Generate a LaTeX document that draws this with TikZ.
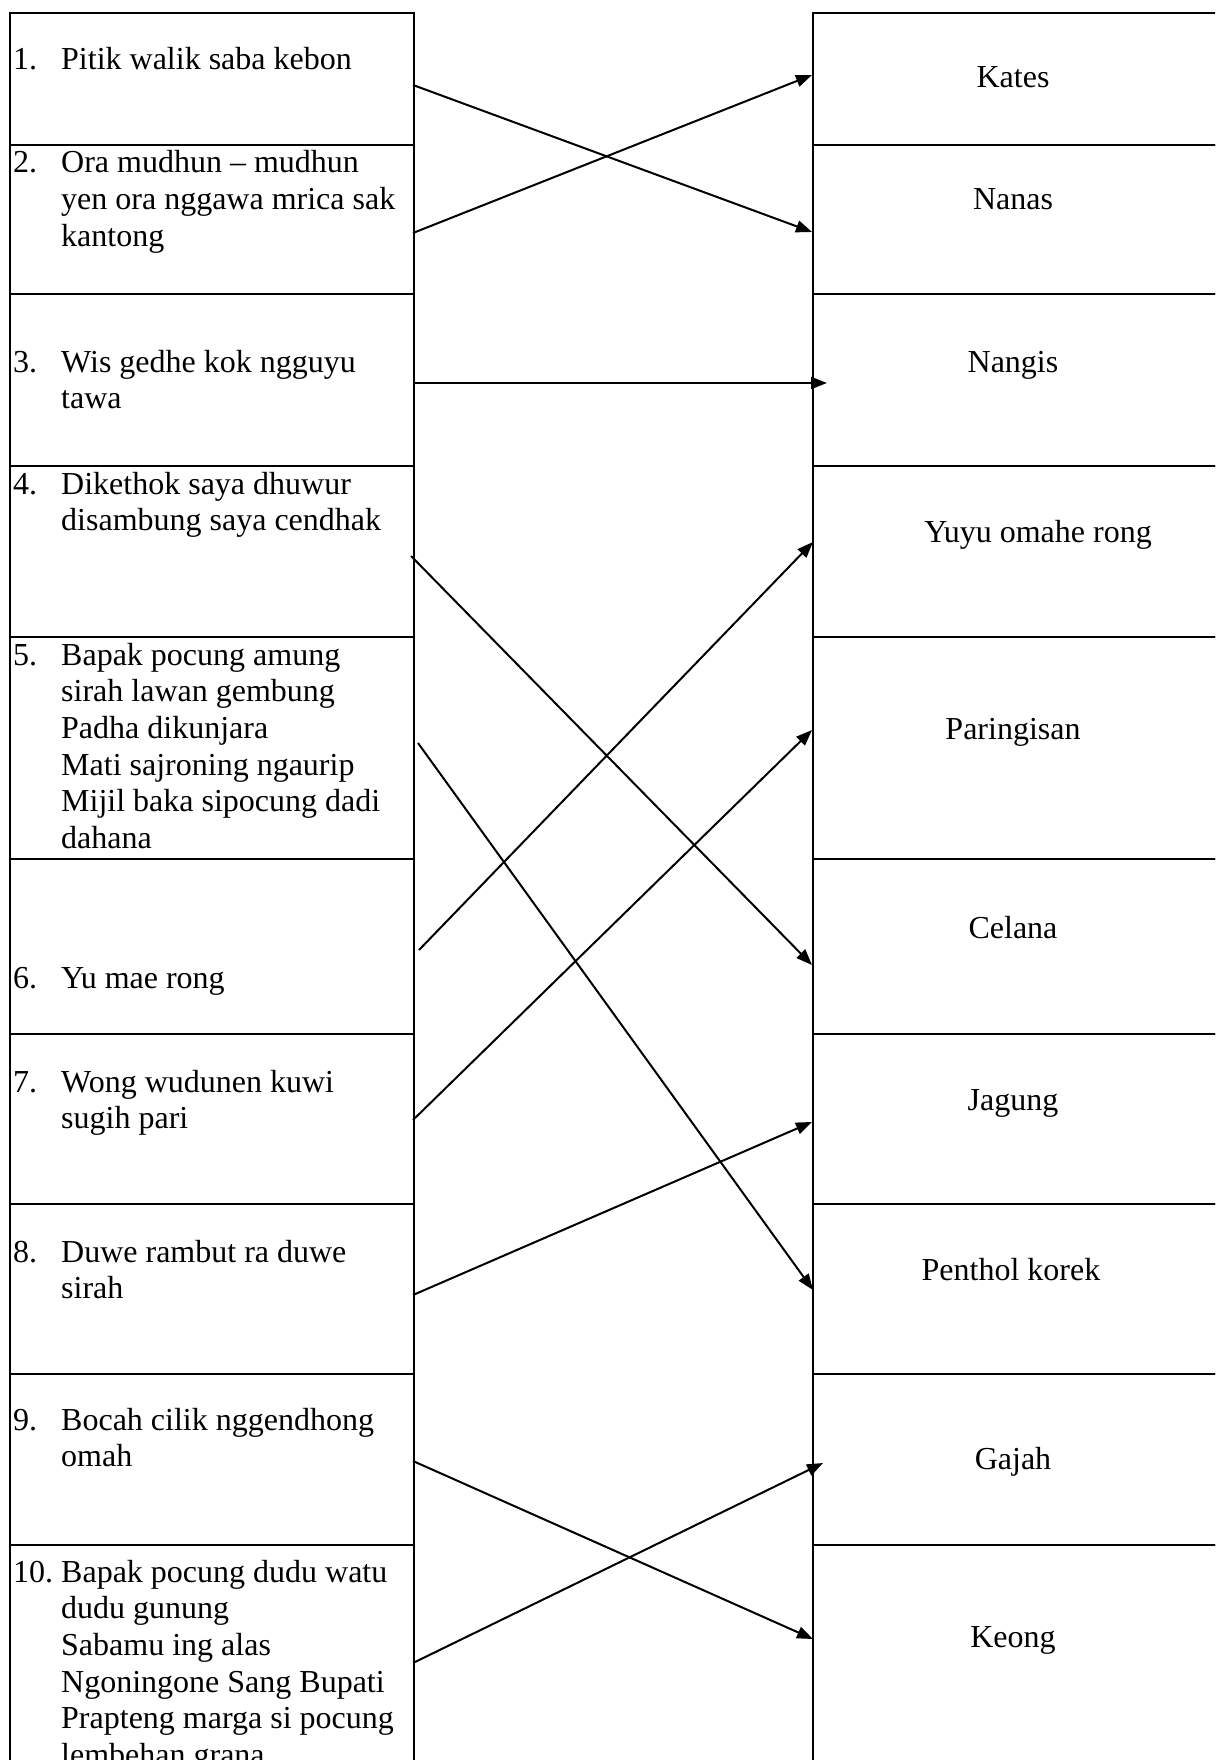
\documentclass[tikz,border=0pt]{standalone}
\usepackage{fontspec}
\setmainfont{Liberation Serif}
\usetikzlibrary{arrows.meta}
\newcommand{\lines}[1]{\begin{tabular}[t]{@{}l@{}}#1\end{tabular}}
\begin{document}
\begin{tikzpicture}[x=1pt,y=-1pt,
  cellL/.style={draw, line width=2pt, rectangle, anchor=north west, inner sep=0pt, minimum width=404pt},
  cellR/.style={draw, line width=2pt, rectangle, anchor=north west, inner sep=0pt, minimum width=420pt},
  num/.style={anchor=base west, inner sep=0pt, font=\fontsize{32}{36.7}\selectfont},
  txt/.style={anchor=base west, inner sep=0pt, font=\fontsize{32}{36.7}\selectfont},
  ans/.style={anchor=base, inner sep=0pt, font=\fontsize{32}{36.7}\selectfont},
  link/.style={line width=2pt, -{Triangle[length=16pt,width=12pt]}}]
\useasboundingbox (0,0) rectangle (1215,1760);
\fill[white] (0,0) rectangle (1215,1760);
\clip (0,0) rectangle (1215,1760);
% left cells
\node[cellL, minimum height=132pt] (L1) at (9,12) {};
\node[cellL, minimum height=149pt] (L2) at (9,144) {};
\node[cellL, minimum height=172pt] (L3) at (9,293) {};
\node[cellL, minimum height=171pt] (L4) at (9,465) {};
\node[cellL, minimum height=222pt] (L5) at (9,636) {};
\node[cellL, minimum height=175pt] (L6) at (9,858) {};
\node[cellL, minimum height=170pt] (L7) at (9,1033) {};
\node[cellL, minimum height=170pt] (L8) at (9,1203) {};
\node[cellL, minimum height=171pt] (L9) at (9,1373) {};
\node[cellL, minimum height=300pt] (L10) at (9,1544) {};
% right cells
\node[cellR, minimum height=132pt] (R1) at (812,12) {};
\node[cellR, minimum height=149pt] (R2) at (812,144) {};
\node[cellR, minimum height=172pt] (R3) at (812,293) {};
\node[cellR, minimum height=171pt] (R4) at (812,465) {};
\node[cellR, minimum height=222pt] (R5) at (812,636) {};
\node[cellR, minimum height=175pt] (R6) at (812,858) {};
\node[cellR, minimum height=170pt] (R7) at (812,1033) {};
\node[cellR, minimum height=170pt] (R8) at (812,1203) {};
\node[cellR, minimum height=171pt] (R9) at (812,1373) {};
\node[cellR, minimum height=300pt] (R10) at (812,1544) {};
% left texts
\node[num] (n1) at (13,70) {1.};
\node[txt] (t1) at (61,70) {Pitik walik saba kebon};
\node[num] (n2) at (13,173) {2.};
\node[txt] (t2) at (61,173) {\lines{Ora mudhun – mudhun\\yen ora nggawa mrica sak\\kantong}};
\node[num] (n3) at (13,372) {3.};
\node[txt] (t3) at (61,372) {\lines{Wis gedhe kok ngguyu\\tawa}};
\node[num] (n4) at (13,494) {4.};
\node[txt] (t4) at (61,494) {\lines{Dikethok saya dhuwur\\disambung saya cendhak}};
\node[num] (n5) at (13,665) {5.};
\node[txt] (t5) at (61,665) {\lines{Bapak pocung amung\\sirah lawan gembung\\Padha dikunjara\\Mati sajroning ngaurip\\Mijil baka sipocung dadi\\dahana}};
\node[num] (n6) at (13,988) {6.};
\node[txt] (t6) at (61,988) {Yu mae rong};
\node[num] (n7) at (13,1092) {7.};
\node[txt] (t7) at (61,1092) {\lines{Wong wudunen kuwi\\sugih pari}};
\node[num] (n8) at (13,1262) {8.};
\node[txt] (t8) at (61,1262) {\lines{Duwe rambut ra duwe\\sirah}};
\node[num] (n9) at (13,1430) {9.};
\node[txt] (t9) at (61,1430) {\lines{Bocah cilik nggendhong\\omah}};
\node[num] (n10) at (13,1582) {10.};
\node[txt] (t10) at (61,1582) {\lines{Bapak pocung dudu watu\\dudu gunung\\Sabamu ing alas\\Ngoningone Sang Bupati\\Prapteng marga si pocung\\lembehan grana}};
% right texts
\node[ans] (a1) at (1013,88) {Kates};
\node[ans] (a2) at (1013,210) {Nanas};
\node[ans] (a3) at (1013,372) {Nangis};
\node[ans] (a4) at (1038,542) {Yuyu omahe rong};
\node[ans] (a5) at (1013,739) {Paringisan};
\node[ans] (a6) at (1013,938) {Celana};
\node[ans] (a7) at (1013,1110) {Jagung};
\node[ans] (a8) at (1011,1280) {Penthol korek};
\node[ans] (a9) at (1013,1469) {Gajah};
\node[ans] (a10) at (1013,1647) {Keong};
% connector ends
\coordinate (s1) at (413,85);   \coordinate (e1) at (812,232);
\coordinate (s2) at (413,233);  \coordinate (e2) at (812,75);
\coordinate (s3) at (415,383);  \coordinate (e3) at (827,383);
\coordinate (s4) at (411,556);  \coordinate (e4) at (812,965);
\coordinate (s5) at (418,743);  \coordinate (e5) at (813,1290);
\coordinate (s6) at (419,950);  \coordinate (e6) at (813,542);
\coordinate (s7) at (413,1120); \coordinate (e7) at (812,730);
\coordinate (s8) at (413,1295); \coordinate (e8) at (812,1122);
\coordinate (s9) at (413,1461); \coordinate (e9) at (813,1639);
\coordinate (s10) at (415,1662); \coordinate (e10) at (823,1463);
\foreach \i in {1,...,10} { \draw[link] (s\i) -- (e\i); }
\end{tikzpicture}
\end{document}
